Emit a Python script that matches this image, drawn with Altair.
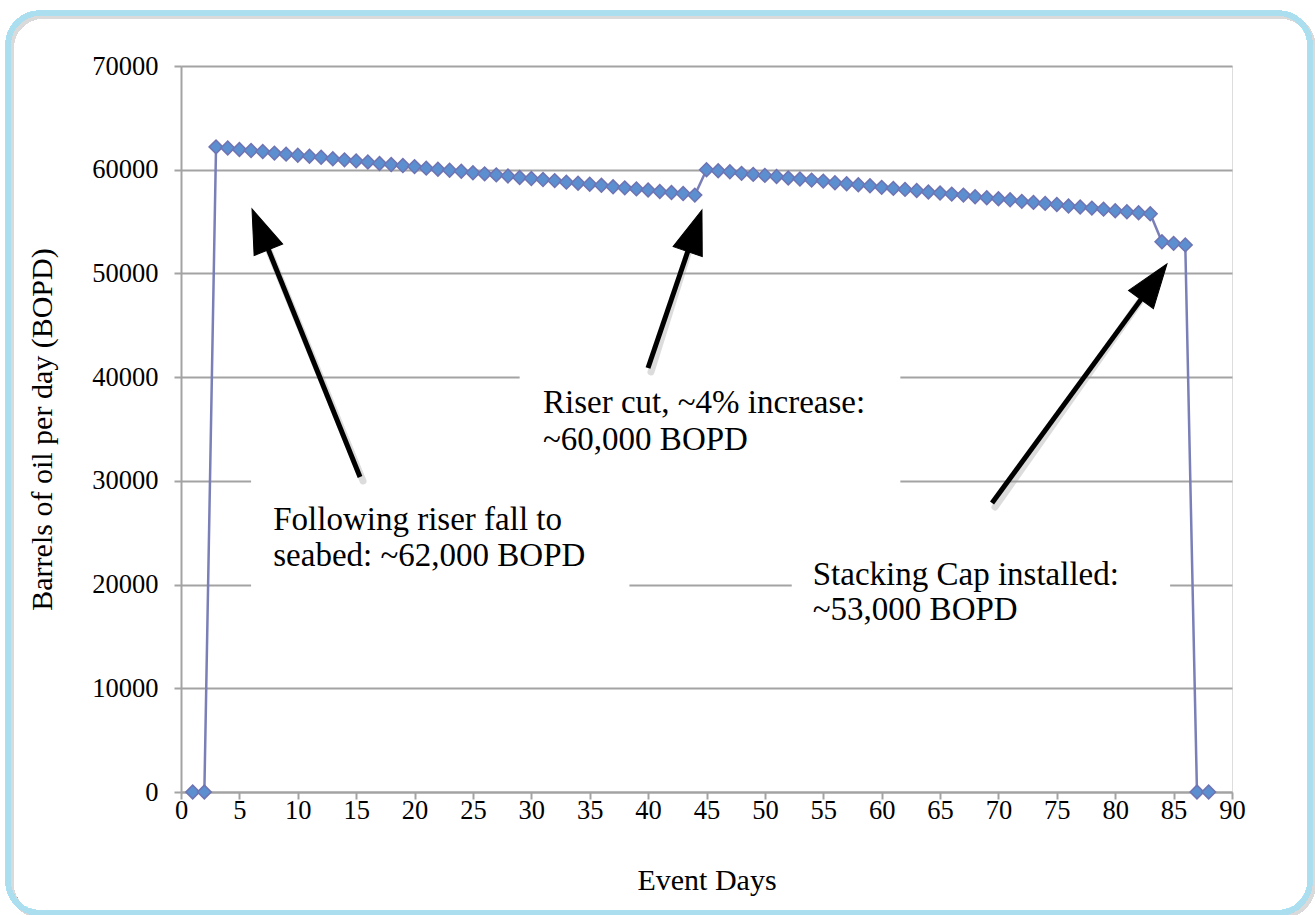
import altair as alt
import pandas as pd

# ---- data ----
days = list(range(1, 89))
bopd = [0, 0,
        62200, 62100, 61950, 61850, 61750, 61600, 61500, 61400, 61300, 61200,
        61050, 60950, 60850, 60750, 60600, 60500, 60400, 60300, 60150, 60050,
        59950, 59850, 59700, 59600, 59500, 59400, 59250, 59150, 59050, 58950,
        58800, 58700, 58600, 58500, 58350, 58250, 58150, 58050, 57900, 57800,
        57700, 57550,
        60000, 59900, 59800, 59650, 59550, 59450, 59350, 59200, 59100, 59000,
        58900, 58750, 58650, 58550, 58450, 58300, 58200, 58100, 58000, 57850,
        57750, 57650, 57550, 57400, 57300, 57200, 57100, 56950, 56850, 56750,
        56650, 56500, 56400, 56300, 56200, 56050, 55950, 55850, 55750,
        53050, 52900, 52750, 0, 0]
assert len(days) == len(bopd)

x_ticks = list(range(0, 91, 5))
y_ticks = list(range(0, 70001, 10000))

note_x = [7.9, 7.9, 31.0, 31.0, 54.1, 54.1]
note_y = [25260, 21790, 36540, 32980, 19960, 16580]
note_text = ["Following riser fall to", "seabed: ~62,000 BOPD",
             "Riser cut, ~4% increase:", "~60,000 BOPD",
             "Stacking Cap installed:", "~53,000 BOPD"]

box_x1 = [6.0, 29.0, 52.3]
box_x2 = [38.4, 61.6, 84.7]
box_y1 = [31000, 41200, 22850]
box_y2 = [18800, 29100, 14700]

arrow_tail_x = [15.33, 39.99, 69.45]
arrow_tail_y = [30373, 40883, 27866]
arrow_tip_x = [6.08, 44.61, 84.43]
arrow_tip_y = [56215, 56118, 50911]
arrow_angle = [338.1, 18.9, 36.2]

# ---- styling ----
FONT = "Liberation Serif, Times New Roman, serif"
GRAY = "#a3a3a3"
W, H = 1051, 726

df = pd.DataFrame({"day": days, "bopd": bopd})
notes = pd.DataFrame({"x": note_x, "y": note_y, "t": note_text})
boxes = pd.DataFrame({"x1": box_x1, "x2": box_x2, "y1": box_y1, "y2": box_y2})
arrows = pd.DataFrame({"tx": arrow_tail_x, "ty": arrow_tail_y,
                       "hx": arrow_tip_x, "hy": arrow_tip_y, "ang": arrow_angle})
# shaft stops a little before the tip so the head covers it
arrows["ex"] = arrows["hx"] + 0.1 * (arrows["tx"] - arrows["hx"])
arrows["ey"] = arrows["hy"] + 0.1 * (arrows["ty"] - arrows["hy"])

xs = alt.Scale(domain=[0, 90], nice=False, zero=False)
ys = alt.Scale(domain=[0, 70000], nice=False)

x_enc = alt.X("day:Q", scale=xs, axis=alt.Axis(
    values=x_ticks, title="Event Days", grid=False, tickSize=7, tickWidth=2,
    tickColor=GRAY, domainColor=GRAY, domainWidth=2, labelFont=FONT,
    labelFontSize=26.5, labelColor="black", labelPadding=-2, titleFont=FONT,
    titleFontSize=30, titleFontWeight="normal", titleColor="black",
    titlePadding=42, labelFlush=False))
y_enc = alt.Y("bopd:Q", scale=ys, axis=alt.Axis(
    values=y_ticks, format="d", title="Barrels of oil per day (BOPD)",
    grid=True, gridColor=GRAY, gridWidth=2, tickSize=7, tickWidth=2,
    tickColor=GRAY, domainColor=GRAY, domainWidth=2, labelFont=FONT,
    labelFontSize=26.5, labelColor="black", labelPadding=16, titleFont=FONT,
    titleFontSize=30, titleFontWeight="normal", titleColor="black",
    titlePadding=34, labelFlush=False))

frame_shadow = alt.Chart(df).mark_rect(
    cornerRadius=32, fill=None, stroke="#d9d9d9", strokeWidth=5, opacity=0.8
).encode(x=alt.value(-170), x2=alt.value(1132), y=alt.value(-50), y2=alt.value(850))

frame = alt.Chart(df).mark_rect(
    cornerRadius=32, fill=None, stroke="#abdff0", strokeWidth=5
).encode(x=alt.value(-173), x2=alt.value(1129), y=alt.value(-53), y2=alt.value(847))

line = alt.Chart(df).mark_line(color="#7a7fb8", strokeWidth=2.5).encode(x=x_enc, y=y_enc)

pts = alt.Chart(df).mark_point(
    shape="diamond", size=190, filled=True, fill="#5b8fd0", stroke="#6f73b2",
    strokeWidth=1.5, opacity=1
).encode(x="day:Q", y="bopd:Q")

box = alt.Chart(boxes).mark_rect(fill="white", stroke=None).encode(
    x=alt.X("x1:Q", scale=xs), x2="x2:Q", y=alt.Y("y1:Q", scale=ys), y2="y2:Q")

shaft_shadow = alt.Chart(arrows).mark_rule(
    color="#9a9a9a", strokeWidth=7, opacity=0.35, xOffset=3, yOffset=4, strokeCap="round"
).encode(x=alt.X("tx:Q", scale=xs), y=alt.Y("ty:Q", scale=ys), x2="ex:Q", y2="ey:Q")

shaft = alt.Chart(arrows).mark_rule(color="black", strokeWidth=5).encode(
    x=alt.X("tx:Q", scale=xs), y=alt.Y("ty:Q", scale=ys), x2="ex:Q", y2="ey:Q")

head = alt.Chart(arrows).mark_point(
    shape="M0,0L-0.7,2L0.7,2Z", size=1936, filled=True, fill="black",
    stroke="black", strokeWidth=1, opacity=1
).encode(x=alt.X("hx:Q", scale=xs), y=alt.Y("hy:Q", scale=ys),
         angle=alt.Angle("ang:Q", scale=None))

text = alt.Chart(notes).mark_text(
    font=FONT, fontSize=33, align="left", baseline="alphabetic", color="black"
).encode(x=alt.X("x:Q", scale=xs), y=alt.Y("y:Q", scale=ys), text="t:N")

chart = alt.layer(
    frame_shadow, frame, box, line, pts, shaft_shadow, shaft, head, text
).properties(
    width=W, height=H,
    autosize=alt.AutoSizeParams(type="none"),
    padding={"left": 181, "top": 66, "right": 83, "bottom": 123},
    background="white",
).configure_view(stroke=None).configure(font=FONT)

chart.save("out.html", embed_options={"renderer": "svg", "actions": False})
